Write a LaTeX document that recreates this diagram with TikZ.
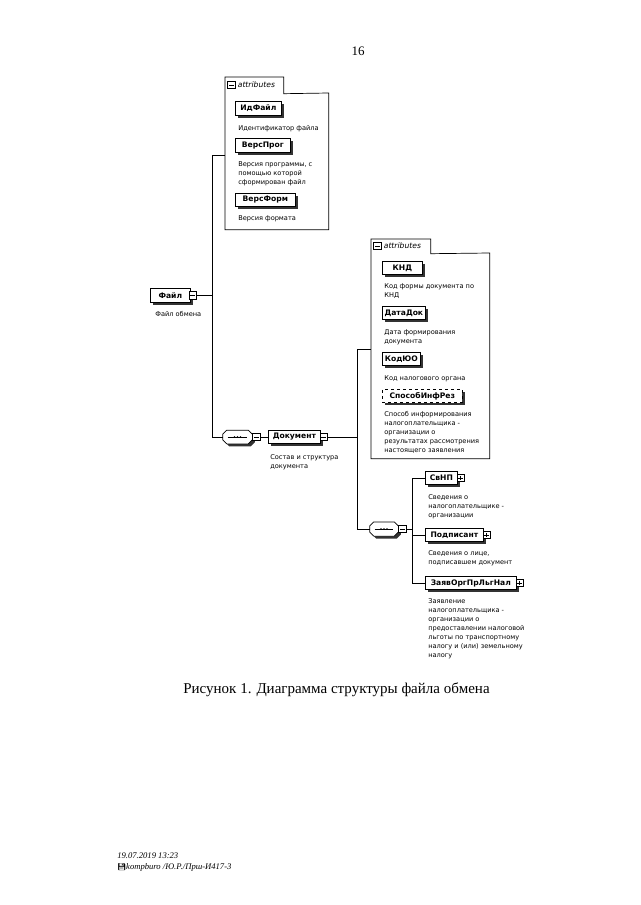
\documentclass[tikz,border=0pt]{standalone}
\usepackage{fontspec}
\setmainfont{Liberation Serif}
\newfontfamily\sansf{DejaVu Sans}
\newfontfamily\emojif{Noto Emoji}
\usetikzlibrary{shadows,calc}
\begin{document}
\begin{tikzpicture}[x=1pt,y=-1pt, line width=0.7pt,
  elem/.style={draw, fill=white, font=\sansf\bfseries\fontsize{7.6}{8}\selectfont, inner xsep=2pt, inner ysep=0pt, minimum height=13.5pt, anchor=west,
    drop shadow={shadow xshift=2.5pt, shadow yshift=-2.5pt, fill=black!80, opacity=1}},
  optelem/.style={elem, dashed},
  desc/.style={font=\sansf\fontsize{6.6}{9}\selectfont, align=left, anchor=north west, inner sep=0pt},
  pmbox/.style={draw, fill=white, minimum size=7.5pt, inner sep=0pt, line width=0.6pt},
  minusbox/.style={pmbox, path picture={\draw[line width=0.6pt] ([xshift=1.5pt]path picture bounding box.west) -- ([xshift=-1.5pt]path picture bounding box.east);}},
  plusbox/.style={pmbox, path picture={\draw[line width=0.6pt] ([xshift=1.5pt]path picture bounding box.west) -- ([xshift=-1.5pt]path picture bounding box.east); \draw[line width=0.6pt] ([yshift=-1.5pt]path picture bounding box.north) -- ([yshift=1.5pt]path picture bounding box.south);}},
  region/.style={inner sep=0pt, anchor=north west},
  tabtext/.style={font=\sansf\itshape\fontsize{7.6}{8}\selectfont, anchor=west, inner sep=0pt},
  comp/.style={inner sep=0pt, minimum width=29pt, minimum height=13pt},
  compshape/.style={fill=white, drop shadow={shadow xshift=2.5pt, shadow yshift=-2.5pt, fill=black!80, opacity=1}},
  footer/.style={font=\itshape\fontsize{8.6}{10}\selectfont, anchor=west, inner sep=0pt}
]
\useasboundingbox (0,0) rectangle (640,905);

% page number
\node[font=\fontsize{13}{15}\selectfont] (pnum) at (358,51) {16};

% ---------- attributes box 1 ----------
\node[region, minimum width=103pt, minimum height=136pt] (a1) at (225,93) {};
\node[region, minimum width=58pt, minimum height=16pt] (a1tab) at (225,77) {};
\draw (a1.south west) -- (a1tab.north west) -- (a1tab.north east) -- (a1tab.south east) -- (a1.north east) -- (a1.south east) -- cycle;
\node[minusbox] (a1m) at (231.5,85) {};
\node[tabtext] (a1t) at (237.5,85) {attributes};

\node[elem, minimum width=46pt] (idf) at (235,108.5) {ИдФайл};
\node[desc] (idfd) at (238,125.5) {Идентификатор файла};
\node[elem, minimum width=55pt] (vprog) at (235,145.5) {ВерсПрог};
\node[desc] (vprogd) at (238,161.5) {Версия программы, с\\помощью которой\\сформирован файл};
\node[elem, minimum width=60pt] (vform) at (235,200) {ВерсФорм};
\node[desc] (vformd) at (238,215) {Версия формата};

% ---------- root element ----------
\node[elem, minimum width=40pt] (fajl) at (150,295.5) {Файл};
\node[minusbox] (fajlm) at ([xshift=2pt]fajl.east) {};
\node[desc] (fajld) at (155,311) {Файл обмена};

\coordinate (j1top) at (212,155);
\coordinate (j1bot) at (212,437);

% ---------- sequence 1 ----------
\node[comp] (comp1) at (237.5,437) {};
\draw[compshape] ([xshift=4pt]comp1.north west) -- ([xshift=-4pt]comp1.north east) -- ([yshift=-4pt]comp1.north east) -- ([yshift=4pt]comp1.south east) -- ([xshift=-4pt]comp1.south east) -- ([xshift=4pt]comp1.south west) -- ([yshift=4pt]comp1.south west) -- ([yshift=-4pt]comp1.north west) -- cycle;
\draw ([xshift=5pt]comp1.west) -- ([xshift=-5pt]comp1.east);
\fill ([xshift=-3pt]comp1.center) circle (0.9pt) (comp1.center) circle (0.9pt) ([xshift=3pt]comp1.center) circle (0.9pt);
\node[minusbox, anchor=west] (comp1m) at (comp1.east) {};

\draw (fajlm.east) -- (fajlm.east -| j1top);
\draw (j1top) -- (j1top -| a1.west);
\draw (j1top) -- (j1bot) -- (comp1.west);

% ---------- Документ ----------
\node[elem, minimum width=52pt] (doc) at (268,437) {Документ};
\node[minusbox] (docm) at ([xshift=3pt]doc.east) {};
\node[desc] (docd) at (270,454.5) {Состав и структура\\документа};
\draw (comp1m.east) -- (doc.west);

% ---------- attributes box 2 ----------
\node[region, minimum width=118pt, minimum height=205pt] (a2) at (371,253) {};
\node[region, minimum width=59pt, minimum height=14pt] (a2tab) at (371,239) {};
\draw (a2.south west) -- (a2tab.north west) -- (a2tab.north east) -- (a2tab.south east) -- (a2.north east) -- (a2.south east) -- cycle;
\node[minusbox] (a2m) at (377.5,246) {};
\node[tabtext] (a2t) at (383.5,246) {attributes};

\node[elem, minimum width=40pt] (knd) at (382,268) {КНД};
\node[desc] (kndd) at (384,283.5) {Код формы документа по\\КНД};
\node[elem, minimum width=43pt] (datadok) at (382,313) {ДатаДок};
\node[desc] (datadokd) at (384,329.5) {Дата формирования\\документа};
\node[elem, minimum width=38pt] (kodyuo) at (382,359) {КодЮО};
\node[desc] (kodyuod) at (384,375) {Код налогового органа};
\node[optelem, minimum width=80pt] (sposob) at (382,396) {СпособИнфРез};
\node[desc] (sposobd) at (384,411.5) {Способ информирования\\налогоплательщика -\\организации о\\результатах рассмотрения\\настоящего заявления};

\coordinate (j2top) at (357,349);
\coordinate (j2bot) at (357,529);

% ---------- sequence 2 ----------
\node[comp, minimum width=28pt, minimum height=13.5pt] (comp2) at (384,529) {};
\draw[compshape] ([xshift=4pt]comp2.north west) -- ([xshift=-4pt]comp2.north east) -- ([yshift=-4pt]comp2.north east) -- ([yshift=4pt]comp2.south east) -- ([xshift=-4pt]comp2.south east) -- ([xshift=4pt]comp2.south west) -- ([yshift=4pt]comp2.south west) -- ([yshift=-4pt]comp2.north west) -- cycle;
\draw ([xshift=5pt]comp2.west) -- ([xshift=-5pt]comp2.east);
\fill ([xshift=-3pt]comp2.center) circle (0.9pt) (comp2.center) circle (0.9pt) ([xshift=3pt]comp2.center) circle (0.9pt);
\node[minusbox, anchor=west] (comp2m) at (comp2.east) {};

\draw (docm.east) -- (docm.east -| j2top);
\draw (j2top) -- (j2top -| a2.west);
\draw (j2top) -- (j2bot) -- (comp2.west);

% ---------- children of sequence 2 ----------
\node[elem, minimum width=32pt] (svnp) at (425,478) {СвНП};
\node[plusbox] (svnpp) at ([xshift=3pt]svnp.east) {};
\node[desc] (svnpd) at (428,494.5) {Сведения о\\налогоплательщике -\\организации};
\node[elem, minimum width=58pt] (podp) at (425,535) {Подписант};
\node[plusbox] (podpp) at ([xshift=3pt]podp.east) {};
\node[desc] (podpd) at (428,550) {Сведения о лице,\\подписавшем документ};
\node[elem, minimum width=91pt] (zayav) at (425,583) {ЗаявОргПрЛьгНал};
\node[plusbox] (zayavp) at ([xshift=3pt]zayav.east) {};
\node[desc] (zayavd) at (428,598.5) {Заявление\\налогоплательщика -\\организации о\\предоставлении налоговой\\льготы по транспортному\\налогу и (или) земельному\\налогу};

\coordinate (j3top) at (412,478);
\coordinate (j3bot) at (412,583);
\draw (comp2m.east) -- (comp2m.east -| j3top);
\draw (j3top) -- (j3bot);
\draw (j3top) -- (svnp.west);
\draw (podp.west -| j3top) -- (podp.west);
\draw (j3bot) -- (zayav.west);

% ---------- caption & footer ----------
\node[font=\fontsize{15}{18}\selectfont] (cap) at (336.5,690) {Рисунок 1. Диаграмма структуры файла обмена};
\node[footer] (ft1) at (117,856) {19.07.2019 13:23};
\node[footer] (ft2) at (117,867) {{\emojif\fontsize{7}{8}\selectfont 💾}kompburo /Ю.Р./Прш-И417-3};
\end{tikzpicture}
\end{document}
